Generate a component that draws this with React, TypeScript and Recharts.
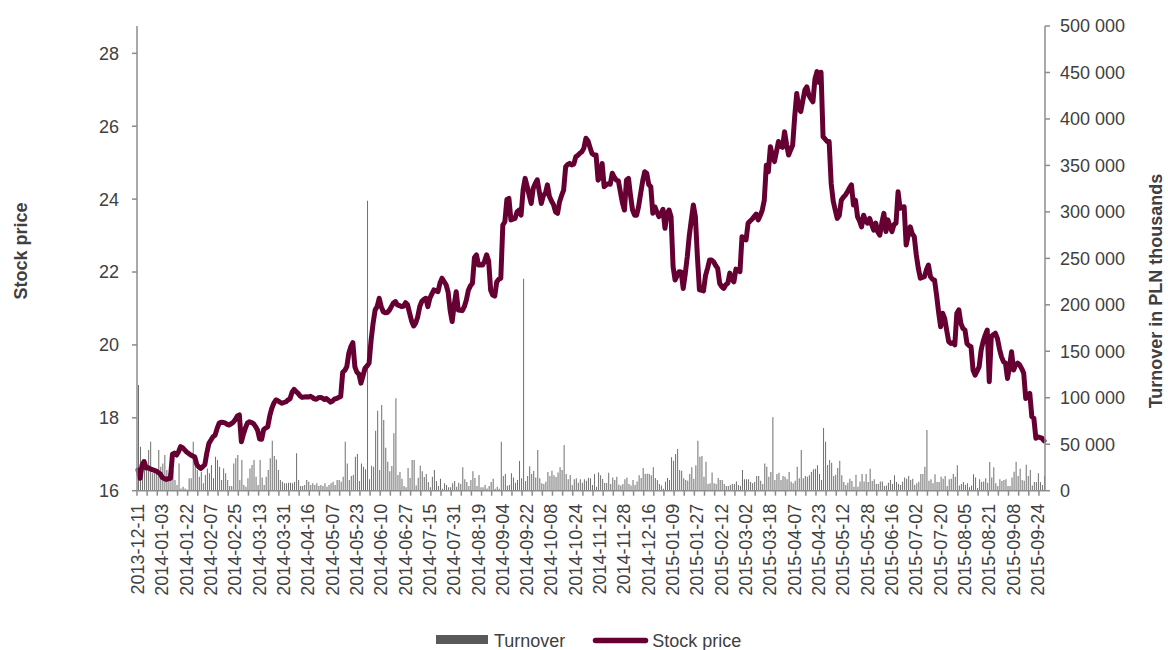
import { ComposedChart, Bar, Line, XAxis, YAxis } from "recharts";

// every 12th session gets a date label
const TICK_LABELS = [
  "2013-12-11", "2014-01-03", "2014-01-22", "2014-02-07", "2014-02-25", "2014-03-13",
  "2014-03-31", "2014-04-16", "2014-05-07", "2014-05-23", "2014-06-10", "2014-06-27",
  "2014-07-15", "2014-07-31", "2014-08-19", "2014-09-04", "2014-09-22", "2014-10-08",
  "2014-10-24", "2014-11-12", "2014-11-28", "2014-12-16", "2015-01-09", "2015-01-27",
  "2015-02-12", "2015-03-02", "2015-03-18", "2015-04-07", "2015-04-23", "2015-05-12",
  "2015-05-28", "2015-06-16", "2015-07-02", "2015-07-20", "2015-08-05", "2015-08-21",
  "2015-09-08", "2015-09-24",
];

// closing price, one value per session
const PRICE = [
  16.57, 16.34, 16.7, 16.8, 16.62, 16.63, 16.6, 16.58, 16.56, 16.54,
  16.5, 16.46, 16.36, 16.33, 16.31, 16.33, 16.34, 17.0, 17.03, 16.98,
  17.07, 17.21, 17.18, 17.12, 17.06, 17.02, 16.98, 16.95, 16.93, 16.72,
  16.65, 16.61, 16.66, 16.72, 17.05, 17.3, 17.39, 17.48, 17.52, 17.7,
  17.85, 17.88, 17.87, 17.86, 17.82, 17.8, 17.84, 17.88, 17.95, 18.05,
  18.08, 17.34, 17.55, 17.72, 17.86, 17.89, 17.87, 17.84, 17.76, 17.66,
  17.42, 17.41, 17.68, 17.72, 17.75, 18.05, 18.26, 18.4, 18.49, 18.47,
  18.43, 18.4, 18.42, 18.44, 18.49, 18.52, 18.7, 18.78, 18.72, 18.67,
  18.6, 18.56, 18.57, 18.58, 18.57, 18.59, 18.56, 18.52, 18.51, 18.55,
  18.56, 18.54, 18.5, 18.53, 18.48, 18.43, 18.46, 18.52, 18.53, 18.56,
  18.58, 19.25, 19.3, 19.4, 19.77, 19.95, 20.06, 19.4, 19.25, 19.2,
  18.95, 19.15, 19.36, 19.42, 19.5, 20.13, 20.6, 20.96, 21.05, 21.28,
  21.05, 20.91, 20.88, 20.89, 20.95, 21.05, 21.15, 21.19, 21.1, 21.08,
  21.05, 21.06, 21.16, 21.1, 20.87, 20.65, 20.52, 20.6, 20.77, 21.05,
  21.19, 21.25, 21.28, 21.05, 21.28, 21.4, 21.51, 21.48, 21.46, 21.7,
  21.83, 21.74, 21.65, 21.45, 20.95, 20.64, 21.1, 21.46, 20.96, 20.95,
  20.94, 21.05, 21.23, 21.5, 21.62, 21.69, 22.4, 22.47, 22.19, 22.2,
  22.19, 22.3, 22.47, 22.3, 21.5, 21.37, 21.34, 21.73, 21.8, 21.83,
  23.29, 23.38, 23.99, 24.02, 23.43, 23.45, 23.47, 23.65, 23.7, 23.56,
  24.25, 24.57, 24.35, 24.1, 23.88, 24.3, 24.43, 24.53, 24.2, 23.88,
  24.1, 24.16, 24.39, 24.07, 23.95, 23.85, 23.65, 23.61, 23.93, 24.1,
  24.25, 24.89, 24.95, 24.98, 24.94, 24.96, 25.16, 25.2, 25.26, 25.3,
  25.4, 25.67, 25.6, 25.42, 25.25, 25.21, 25.21, 24.52, 24.6, 24.98,
  24.34, 24.39, 24.42, 24.41, 24.71, 24.6, 24.52, 24.5, 24.2, 23.9,
  23.7, 24.52, 24.57, 24.1, 23.7, 23.56, 23.56, 23.8, 24.16, 24.5,
  24.75, 24.71, 24.4, 24.34, 23.61, 23.79, 23.65, 23.52, 23.6, 23.72,
  23.2, 23.6, 23.7, 23.52, 22.15, 21.78, 21.9, 22.01, 22.0, 21.55,
  21.95, 22.42, 23.0, 23.43, 23.84, 23.52, 22.42, 21.51, 21.5, 21.48,
  21.9, 22.1, 22.33, 22.33, 22.28, 22.18, 22.1, 21.69, 21.6, 21.55,
  21.65, 21.69, 21.97, 21.8, 21.73, 22.08, 22.05, 22.01, 22.97, 22.9,
  22.88, 23.34, 23.4, 23.45, 23.52, 23.59, 23.43, 23.55, 23.7, 23.97,
  24.93, 24.75, 25.44, 25.2, 25.03, 25.3, 25.58, 25.45, 25.42, 25.85,
  25.5, 25.21, 25.35, 25.48, 26.26, 26.9, 26.5, 26.4, 26.7, 26.99,
  27.08, 26.85, 26.75, 26.67, 27.3, 27.5, 27.2, 27.48, 25.71, 25.65,
  25.58, 25.58, 24.43, 23.95, 23.7, 23.47, 23.55, 23.97, 24.05, 24.11,
  24.2, 24.3, 24.39, 23.84, 23.97, 23.52, 23.4, 23.24, 23.56, 23.4,
  23.34, 23.47, 23.3, 23.15, 23.34, 23.1, 23.01, 23.35, 23.61, 23.11,
  23.43, 23.25, 23.11, 23.3, 23.34, 24.2, 23.75, 23.78, 23.79, 22.74,
  23.0, 23.24, 23.05, 22.97, 22.47, 22.1, 21.83, 21.85, 21.87, 22.06,
  22.19, 21.87, 21.8, 21.78, 21.37, 20.9, 20.5, 20.87, 20.73, 20.4,
  20.09, 20.04, 20.06, 20.0, 20.87, 20.96, 20.59, 20.45, 20.41, 20.04,
  19.98, 19.95, 19.31, 19.17, 19.28, 19.4, 19.86, 20.1, 20.27, 20.41,
  18.99, 20.23, 20.28, 20.32, 20.18, 19.9, 19.68, 19.54, 19.5, 19.08,
  19.4, 19.81, 19.31, 19.45, 19.5, 19.45, 19.35, 19.22, 18.53, 18.6,
  18.67, 18.03, 17.99, 17.44, 17.48, 17.46, 17.44, 17.37,
];

// turnover in thousands of the axis unit (scaled below)
const TURNOVER = [
  113.7, 47.3, 33.0, 25.8, 29.4, 43.8, 52.7, 18.7, 22.2, 18.7,
  43.8, 25.8, 29.4, 38.4, 22.2, 18.7, 15.1, 22.2, 11.5, 6.1,
  29.4, 2.5, 4.3, 2.5, 1.4, 13.3, 13.3, 52.7, 27.6, 22.2,
  15.1, 20.4, 7.9, 16.9, 24.0, 18.7, 27.6, 13.3, 36.6, 33.0,
  25.8, 11.5, 24.0, 18.7, 11.5, 5.0, 5.0, 29.4, 34.8, 38.4,
  11.5, 33.0, 6.1, 4.3, 13.3, 24.0, 27.6, 33.0, 15.1, 6.1,
  33.0, 14.3, 6.1, 15.1, 22.2, 34.8, 53.8, 37.3, 33.7, 22.2,
  11.5, 9.7, 7.9, 7.9, 8.6, 8.6, 7.9, 9.3, 40.2, 11.5,
  5.0, 5.0, 6.1, 11.5, 9.7, 6.1, 7.9, 6.1, 7.9, 5.0,
  6.1, 5.0, 7.9, 4.3, 6.1, 7.9, 9.7, 6.1, 11.5, 11.5,
  9.7, 15.1, 52.7, 29.4, 11.5, 15.8, 16.9, 36.6,
  39.5, 10.4, 29.4, 25.8, 23.0, 312, 12.2, 26.9, 25.8, 64.6,
  86.1, 22.2, 92.2, 76.0, 46.3, 31.2, 20.8, 26.5, 61.7, 99.4,
  16.9, 20.1, 12.9, 5.0, 3.6, 24.4, 13.6, 33.0, 33.0, 5.7,
  14.0, 26.9, 20.8, 14.7, 17.9, 9.3, 3.6, 15.1, 22.2, 10.4,
  5.0, 12.9, 2.2, 7.9, 6.1, 3.6, 3.6, 7.9, 10.4, 4.3,
  8.6, 7.2, 25.1, 12.2, 9.3, 5.0, 11.5, 20.8, 13.6, 5.0,
  16.9, 3.6, 3.6, 6.1, 2.5, 5.0, 9.3, 12.9, 2.2, 4.3,
  2.2, 52.7, 15.8, 17.9, 5.4, 6.1, 18.7, 14.3, 8.6, 11.5,
  31.9, 13.3, 228, 10.4, 15.8, 26.2, 17.9, 21.2, 14.3, 43.8,
  13.3, 7.9, 7.2, 9.7, 20.1, 15.8, 21.5, 16.5, 14.7, 19.7,
  25.1, 22.2, 49.1, 17.9, 12.2, 16.9, 6.1, 12.2, 13.3, 8.6,
  12.2, 8.6, 12.2,
  10.8, 14.0, 13.3, 6.1, 17.9, 4.3, 19.7, 16.5, 12.6, 8.3,
  8.3, 19.4, 7.2, 14.3, 11.5, 15.1, 6.5, 5.7, 7.2, 12.2,
  14.3, 7.2, 5.7, 11.5, 6.1, 10.0, 16.5, 13.6, 24.4, 17.9,
  18.3, 17.9, 16.5, 25.1, 13.6, 11.5, 7.2, 5.7, 2.2, 9.7,
  13.6, 11.5, 35.9, 32.3, 39.5, 44.8, 22.2, 21.5, 13.3, 11.5,
  10.8, 17.9, 25.1, 12.9, 27.3, 53.8, 36.6, 37.3, 15.1, 31.2,
  7.2, 7.9, 19.7, 7.9, 7.2, 13.6, 11.5, 11.5, 7.2, 5.0,
  5.0, 6.1, 7.2, 7.2, 10.0, 6.1, 5.0, 22.2, 12.2, 12.2,
  12.2, 9.3, 7.9, 9.3, 15.8, 15.8, 10.8, 7.2, 29.4, 25.8,
  15.1, 20.1, 78.9, 11.5, 17.9, 19.4, 11.5, 15.8, 15.1, 12.2,
  20.1, 9.7, 7.9, 10.8, 25.8, 13.3, 43.8, 13.3,
  15.8, 15.1, 16.5, 20.1, 23.0, 23.7, 27.3, 17.9, 11.5, 67.4,
  52.7, 27.6, 33.0, 30.1, 15.8, 17.2, 24.4, 32.3, 16.5, 9.3,
  6.1, 8.6, 12.9, 10.4, 4.3, 17.2, 4.3, 10.0, 17.9, 10.0,
  17.9, 9.3, 23.7, 10.4, 12.2, 7.2, 7.2, 10.0, 10.0, 5.0,
  5.7, 8.6, 11.5, 7.2, 16.5, 9.3, 7.2, 6.1, 9.7, 14.3,
  12.9, 15.8, 11.5, 12.9, 6.1, 7.9, 9.7, 17.9, 17.9, 25.8,
  65.3, 10.8, 12.2, 7.9, 17.6, 9.3, 9.3, 15.1, 12.9, 15.8,
  5.0, 12.2, 12.9, 17.9, 15.1, 27.3, 5.7, 7.2, 9.3, 6.5,
  7.9, 3.6, 5.7, 17.6, 14.3, 2.9, 12.2, 9.3, 10.0, 13.3,
  8.6, 30.8, 14.3, 25.1, 7.9, 5.0, 12.2, 10.4, 11.5, 12.2,
  5.0, 5.0, 14.3, 20.4, 31.2, 15.8, 23.7, 11.5, 10.8, 28.0,
  15.8, 22.2, 5.7, 9.3, 9.3, 18.7, 9.3, 6.1, 15.8,
];

const PRICE_TICKS = [16, 18, 20, 22, 24, 26, 28];
const TURNOVER_TICKS = [0, 50000, 100000, 150000, 200000, 250000, 300000, 350000, 400000, 450000, 500000];

const data = PRICE.map((price, i) => ({
  i,
  price,
  turnover: Math.round(TURNOVER[i] * 1000),
}));

const xTicks = data.map((d) => d.i).filter((i) => i % 5 === 0 || i % 12 === 0);

const W = 1160;
const H = 642;
const PLOT_W = 908;
const BAND = PLOT_W / PRICE.length;
const AXIS = "#8c8c8c";
const TEXT = "#404040";
const LINE = "#660033";
const FONT = '"Liberation Sans", Arial, sans-serif';

const fmtThousands = (v: number) =>
  String(v).replace(/\B(?=(\d{3})+(?!\d))/g, " ");

function DateTick({ x, y, payload }: any) {
  const v = payload.value as number;
  const ly = y + 13;
  return (
    <g>
      {v % 5 === 0 && (
        <line x1={x - BAND / 2} x2={x - BAND / 2} y1={y} y2={y + 5} stroke={AXIS} strokeWidth={1.5} />
      )}
      {v % 12 === 0 && (
        <text
          x={x}
          y={ly}
          transform={`rotate(-90 ${x} ${ly})`}
          textAnchor="end"
          dominantBaseline="central"
          fontSize={18}
          fill={TEXT}
        >
          {TICK_LABELS[v / 12]}
        </text>
      )}
    </g>
  );
}

export default function App() {
  return (
    <div style={{ position: "relative", width: 1168, height: 650, fontFamily: FONT }}>
      <style>{"html,body{margin:0;overflow:hidden}#root{overflow:visible}"}</style>
      <div style={{ position: "absolute", left: 8, top: 8 }}>
        <ComposedChart
          width={W}
          height={H}
          data={data}
          margin={{ top: 18, right: 13, left: 59, bottom: 39.3 }}
        >
          <XAxis
            dataKey="i"
            type="category"
            ticks={xTicks}
            interval={0}
            tickLine={false}
            tickSize={0}
            tickMargin={0}
            height={120}
            axisLine={{ stroke: AXIS, strokeWidth: 1.5 }}
            tick={<DateTick />}
          />
          <YAxis
            yAxisId="price"
            orientation="left"
            domain={[16, 28.75]}
            ticks={PRICE_TICKS}
            allowDataOverflow
            width={70}
            tickSize={5}
            tickMargin={13}
            axisLine={{ stroke: AXIS, strokeWidth: 1.5 }}
            tickLine={{ stroke: AXIS, strokeWidth: 1.5 }}
            tick={{ fontSize: 18, fill: TEXT }}
          />
          <YAxis
            yAxisId="turn"
            orientation="right"
            domain={[0, 500000]}
            ticks={TURNOVER_TICKS}
            allowDataOverflow
            width={110}
            tickSize={5}
            tickMargin={10}
            tickFormatter={fmtThousands}
            axisLine={{ stroke: AXIS, strokeWidth: 1.5 }}
            tickLine={{ stroke: AXIS, strokeWidth: 1.5 }}
            tick={{ fontSize: 18, fill: TEXT }}
          />
          <Bar
            yAxisId="turn"
            dataKey="turnover"
            name="Turnover"
            fill="#6e6e6e"
            barSize={1}
            isAnimationActive={false}
          />
          <Line
            yAxisId="price"
            dataKey="price"
            name="Stock price"
            type="linear"
            stroke={LINE}
            strokeWidth={5}
            strokeLinejoin="round"
            strokeLinecap="round"
            dot={false}
            activeDot={false}
            isAnimationActive={false}
          />
        </ComposedChart>
      </div>

      <svg
        width={1168}
        height={650}
        style={{ position: "absolute", left: 0, top: 0, pointerEvents: "none" }}
      >
        <g transform="translate(8 8)">
          <text
            x={12.5}
            y={243}
            transform="rotate(-90 12.5 243)"
            textAnchor="middle"
            dominantBaseline="central"
            fontSize={18}
            fontWeight="bold"
            fill={TEXT}
          >
            Stock price
          </text>
          <text
            x={1148}
            y={283}
            transform="rotate(-90 1148 283)"
            textAnchor="middle"
            dominantBaseline="central"
            fontSize={18}
            fontWeight="bold"
            fill={TEXT}
          >
            Turnover in PLN thousands
          </text>

          <rect x={428} y={627} width={52} height={9} fill="#595959" />
          <text x={486} y={638.7} fontSize={18} fill={TEXT}>
            Turnover
          </text>
          <line x1={587.5} x2={637.5} y1={632.5} y2={632.5} stroke={LINE} strokeWidth={5.5} strokeLinecap="round" />
          <text x={644.3} y={638.7} fontSize={18} fill={TEXT}>
            Stock price
          </text>
        </g>
      </svg>
    </div>
  );
}
